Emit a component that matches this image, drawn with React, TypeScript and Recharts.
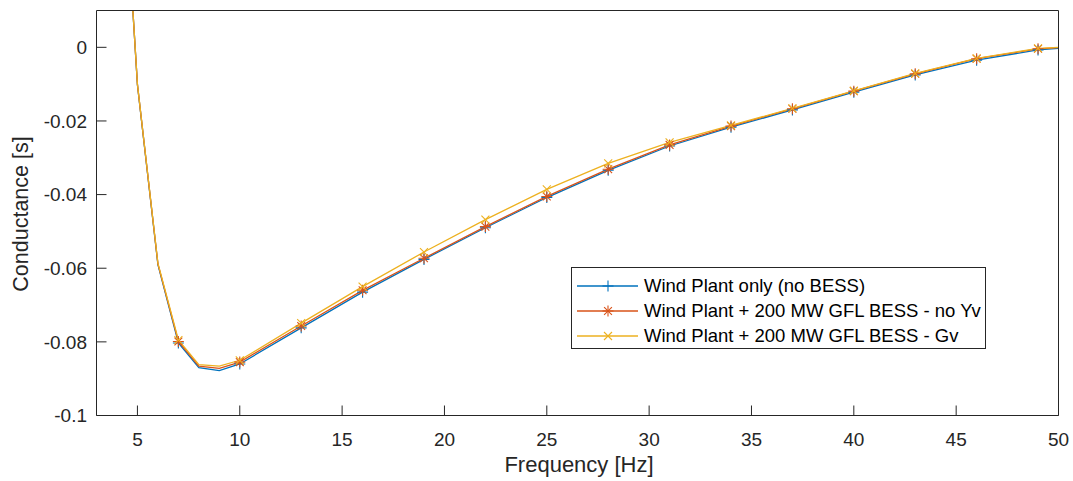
import React from 'react';
import { LineChart, Line, XAxis, YAxis, Legend, Label } from 'recharts';

const freq = [4, 5, 6, 7, 8, 9, 10, 13, 16, 19, 22, 25, 28, 31, 34, 37, 40, 43, 46, 49, 50];
const windOnly = [0.08, -0.0102, -0.059, -0.0803, -0.087, -0.0878, -0.086, -0.0762, -0.0665, -0.0576, -0.049, -0.0408, -0.0334, -0.0268, -0.0217, -0.017, -0.0122, -0.0075, -0.0035, -0.0007, -0.0003];
const noYv = [0.08, -0.0101, -0.0588, -0.0799, -0.0866, -0.0872, -0.0855, -0.0757, -0.066, -0.0573, -0.0487, -0.0405, -0.0331, -0.0265, -0.0214, -0.0167, -0.0119, -0.0072, -0.0031, -0.0004, -0.0001];
const gv = [0.08, -0.01, -0.0586, -0.0795, -0.0862, -0.0866, -0.085, -0.0749, -0.065, -0.0556, -0.0468, -0.0386, -0.0315, -0.0258, -0.0212, -0.0166, -0.0118, -0.0071, -0.003, -0.0003, 0.0];
const markerFreqs = [7, 10, 13, 16, 19, 22, 25, 28, 31, 34, 37, 40, 43, 46, 49];
const xTicks = [5, 10, 15, 20, 25, 30, 35, 40, 45, 50];
const yTicks = [-0.1, -0.08, -0.06, -0.04, -0.02, 0];
const seriesNames = [
  'Wind Plant only (no BESS)',
  'Wind Plant + 200 MW GFL BESS - no Yv',
  'Wind Plant + 200 MW GFL BESS - Gv',
];
const seriesKeys = ['windOnly', 'noYv', 'gv'];
const colors = ['#0072BD', '#D95319', '#EDB120'];
const markerTypes = ['plus', 'star', 'cross'];

const data = freq.map((f, i) => ({ f, windOnly: windOnly[i], noYv: noYv[i], gv: gv[i] }));

const FONT = '"Liberation Sans", Arial, Helvetica, sans-serif';
const AXIS = '#262626';

function Marker({ type, cx, cy, color }: { type: string; cx: number; cy: number; color: string }) {
  const sw = 1.1;
  if (type === 'plus') {
    const h = 5.5;
    return (
      <g stroke={color} strokeWidth={sw} fill="none">
        <line x1={cx - h} y1={cy} x2={cx + h} y2={cy} />
        <line x1={cx} y1={cy - h} x2={cx} y2={cy + h} />
      </g>
    );
  }
  if (type === 'star') {
    const h = 5.5;
    const d = 3.9;
    return (
      <g stroke={color} strokeWidth={sw} fill="none">
        <line x1={cx - h} y1={cy} x2={cx + h} y2={cy} />
        <line x1={cx} y1={cy - h} x2={cx} y2={cy + h} />
        <line x1={cx - d} y1={cy - d} x2={cx + d} y2={cy + d} />
        <line x1={cx - d} y1={cy + d} x2={cx + d} y2={cy - d} />
      </g>
    );
  }
  const d = 4;
  return (
    <g stroke={color} strokeWidth={sw} fill="none">
      <line x1={cx - d} y1={cy - d} x2={cx + d} y2={cy + d} />
      <line x1={cx - d} y1={cy + d} x2={cx + d} y2={cy - d} />
    </g>
  );
}

const makeDot = (idx: number) => (props: any) => {
  const { cx, cy, payload, index } = props;
  if (!payload || markerFreqs.indexOf(payload.f) < 0 || cx == null || cy == null) {
    return <g key={`e-${idx}-${index}`} />;
  }
  return (
    <g key={`m-${idx}-${index}`}>
      <Marker type={markerTypes[idx]} cx={cx} cy={cy} color={colors[idx]} />
    </g>
  );
};

function LegendBox() {
  return (
    <div
      style={{
        width: 415,
        height: 82,
        border: `1px solid ${AXIS}`,
        background: '#fff',
        fontFamily: FONT,
        fontSize: 18.5,
        color: '#000',
        boxSizing: 'border-box',
        paddingTop: 5,
      }}
    >
      {seriesNames.map((name, i) => (
        <div key={name} style={{ display: 'flex', alignItems: 'center', height: 25 }}>
          <svg width={72} height={20} style={{ display: 'block' }}>
            <line x1={5} y1={10} x2={66} y2={10} stroke={colors[i]} strokeWidth={1.3} />
            <Marker type={markerTypes[i]} cx={36} cy={10} color={colors[i]} />
          </svg>
          <span style={{ whiteSpace: 'nowrap', lineHeight: '20px' }}>{name}</span>
        </div>
      ))}
    </div>
  );
}

export default function App() {
  return (
    <div style={{ position: 'absolute', left: 0, top: 0, width: 1073, height: 481, background: '#fff' }}>
      <LineChart
        width={1073}
        height={481}
        data={data}
        margin={{ top: 9.5, right: 13.5, bottom: 10, left: 0.5 }}
      >
        <XAxis
          dataKey="f"
          type="number"
          domain={[3, 50]}
          ticks={xTicks}
          interval={0}
          height={55.5}
          tickSize={-10}
          tickMargin={27}
          axisLine={{ stroke: AXIS, strokeWidth: 1 }}
          tickLine={{ stroke: AXIS, strokeWidth: 1 }}
          tick={{ fill: AXIS, fontSize: 19, fontFamily: FONT }}
        >
          <Label
            content={() => (
              <text x={579} y={472} textAnchor="middle" fill={AXIS} fontSize={22} fontFamily={FONT}>
                Frequency [Hz]
              </text>
            )}
          />
        </XAxis>
        <XAxis
          xAxisId="top"
          orientation="top"
          dataKey="f"
          type="number"
          domain={[3, 50]}
          ticks={xTicks}
          interval={0}
          height={1}
          tickSize={-10}
          tick={false}
          axisLine={{ stroke: AXIS, strokeWidth: 1 }}
          tickLine={{ stroke: AXIS, strokeWidth: 1 }}
        />
        <YAxis
          type="number"
          domain={[-0.1, 0.01]}
          allowDataOverflow
          ticks={yTicks}
          interval={0}
          width={96}
          tickSize={-10}
          tickMargin={19.5}
          tickFormatter={(v: number) => String(v)}
          axisLine={{ stroke: AXIS, strokeWidth: 1 }}
          tickLine={{ stroke: AXIS, strokeWidth: 1 }}
          tick={{ fill: AXIS, fontSize: 19, fontFamily: FONT }}
        >
          <Label
            content={() => (
              <text
                x={28}
                y={214}
                textAnchor="middle"
                fill={AXIS}
                fontSize={21.5}
                fontFamily={FONT}
                transform="rotate(-90, 28, 214)"
              >
                Conductance [s]
              </text>
            )}
          />
        </YAxis>
        <YAxis
          yAxisId="right"
          orientation="right"
          type="number"
          domain={[-0.1, 0.01]}
          allowDataOverflow
          ticks={yTicks}
          interval={0}
          width={1}
          tickSize={-10}
          tick={false}
          axisLine={{ stroke: AXIS, strokeWidth: 1 }}
          tickLine={{ stroke: AXIS, strokeWidth: 1 }}
        />
        {seriesKeys.map((k, i) => (
          <Line
            key={k}
            dataKey={k}
            name={seriesNames[i]}
            type="linear"
            stroke={colors[i]}
            strokeWidth={1.3}
            dot={makeDot(i)}
            activeDot={false}
            isAnimationActive={false}
          />
        ))}
        <Legend
          layout="vertical"
          align="center"
          verticalAlign="middle"
          wrapperStyle={{ left: 571, top: 267, width: 415, height: 82 }}
          content={() => <LegendBox />}
        />
      </LineChart>
    </div>
  );
}
